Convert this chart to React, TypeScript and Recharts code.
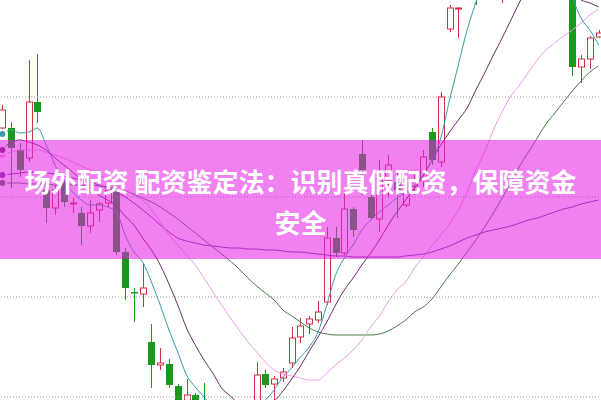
import React from 'react';
import { ComposedChart, Bar, Line, XAxis, YAxis, ReferenceLine } from 'recharts';

const opens = [12.69, 12.69, 12.47, 12.39, 12.95, 12.07, 11.89, 12.14, 11.93, 11.84, 11.71, 11.87, 11.94, 12.05, 11.45, 11.05, 11.03, 10.55, 10.32, 10.33, 10.11, 9.87, 10.02, 9.95, 9.77, 9.57, 9.42, 9.52, 9.47, 9.77, 10.23, 10.13, 10.19, 10.34, 10.6, 10.73, 10.77, 10.95, 11.59, 11.44, 11.88, 12.43, 12.0, 11.78, 12.17, 12.15, 11.92, 12.11, 12.17, 12.65, 12.35, 13.68, 13.88, 14.17, 14.57, 14.37, 14.67, 14.17, 14.57, 14.97, 15.17, 15.07, 15.27, 14.97, 14.77, 14.37, 13.3, 13.38, 13.6];
const closes = [12.87, 12.49, 12.27, 12.95, 12.85, 11.89, 12.07, 11.95, 11.94, 11.71, 11.84, 11.93, 12.07, 11.45, 11.09, 11.04, 11.09, 10.32, 10.34, 10.12, 9.87, 10.02, 9.87, 9.77, 9.57, 9.42, 9.52, 9.47, 9.67, 10.22, 10.12, 10.18, 10.25, 10.59, 10.71, 10.78, 10.85, 11.59, 11.44, 11.88, 11.67, 12.27, 11.79, 12.19, 12.32, 12.07, 12.05, 12.17, 12.4, 12.37, 13.0, 13.89, 13.89, 14.37, 14.27, 14.67, 14.87, 14.57, 14.97, 15.17, 15.07, 15.27, 14.97, 14.77, 14.47, 13.3, 13.38, 13.59, 13.64];
const highs = [12.92, 12.75, 12.54, 13.37, 13.43, 12.12, 12.12, 12.17, 11.99, 11.9, 11.97, 11.95, 12.15, 12.12, 11.49, 11.09, 11.34, 10.73, 10.49, 10.38, 10.13, 10.18, 10.04, 10.14, 9.82, 9.67, 9.57, 9.62, 9.72, 10.35, 10.27, 10.21, 10.29, 10.7, 10.79, 10.81, 10.96, 11.7, 11.7, 12.04, 11.9, 12.57, 12.02, 12.37, 12.42, 12.25, 12.1, 12.22, 12.47, 12.69, 13.05, 13.92, 13.9, 14.47, 14.67, 14.77, 14.97, 14.67, 15.07, 15.27, 15.32, 15.37, 15.37, 15.07, 14.87, 14.47, 13.42, 13.61, 13.67];
const lows = [12.66, 12.09, 12.2, 12.35, 12.74, 11.74, 11.82, 11.9, 11.84, 11.52, 11.64, 11.75, 11.9, 11.42, 10.97, 10.75, 10.9, 10.09, 10.27, 10.09, 9.82, 9.82, 9.79, 9.72, 9.52, 9.37, 9.27, 9.37, 9.42, 9.72, 10.09, 9.95, 10.15, 10.29, 10.54, 10.63, 10.74, 10.92, 11.4, 11.42, 11.6, 12.02, 11.77, 11.65, 11.99, 11.79, 11.9, 12.02, 12.1, 12.32, 12.3, 13.65, 13.59, 14.07, 13.92, 14.27, 14.57, 13.94, 14.47, 14.87, 14.97, 14.97, 14.87, 14.67, 14.37, 13.21, 13.14, 13.28, 13.59];

const ma5 = [12.63, 12.67, 12.64, 12.65, 12.69, 12.52, 12.32, 12.17, 12.05, 11.97, 11.92, 11.92, 11.9, 11.85, 11.62, 11.45, 11.35, 11.15, 10.92, 10.67, 10.45, 10.22, 10.1, 10.0, 9.9, 9.82, 9.77, 9.75, 9.79, 9.87, 9.97, 10.07, 10.2, 10.29, 10.4, 10.5, 10.65, 10.92, 11.22, 11.39, 11.52, 11.67, 11.77, 11.85, 11.92, 11.99, 12.05, 12.12, 12.22, 12.37, 12.59, 12.97, 13.32, 13.67, 13.95, 14.27, 14.57, 14.77, 14.97, 15.07, 15.12, 15.12, 15.07, 14.87, 14.47, 14.02, 13.79, 13.67, 13.52];
const ma10 = [12.47, 12.55, 12.57, 12.55, 12.52, 12.47, 12.39, 12.32, 12.25, 12.17, 12.09, 12.02, 11.97, 11.91, 11.81, 11.72, 11.59, 11.47, 11.32, 11.13, 10.92, 10.69, 10.52, 10.37, 10.24, 10.09, 10.01, 9.93, 9.88, 9.89, 9.93, 9.96, 10.06, 10.18, 10.31, 10.46, 10.6, 10.75, 10.92, 11.07, 11.19, 11.32, 11.44, 11.57, 11.72, 11.85, 11.97, 12.09, 12.21, 12.37, 12.52, 12.65, 12.77, 12.89, 13.07, 13.24, 13.42, 13.59, 13.77, 13.95, 14.12, 14.22, 14.27, 14.25, 14.12, 14.05, 13.97, 13.94, 13.9];
const ma20 = [12.42, 12.45, 12.47, 12.47, 12.47, 12.45, 12.42, 12.39, 12.35, 12.31, 12.27, 12.22, 12.17, 12.12, 12.07, 12.02, 11.97, 11.87, 11.75, 11.62, 11.52, 11.42, 11.32, 11.19, 11.05, 10.92, 10.79, 10.67, 10.55, 10.45, 10.35, 10.27, 10.23, 10.21, 10.19, 10.17, 10.17, 10.24, 10.32, 10.39, 10.47, 10.57, 10.7, 10.81, 10.95, 11.07, 11.15, 11.29, 11.4, 11.51, 11.62, 11.73, 11.87, 12.05, 12.27, 12.45, 12.67, 12.85, 13.01, 13.12, 13.25, 13.37, 13.47, 13.54, 13.61, 13.67, 13.74, 13.82, 13.88];
const ma30 = [12.14, 12.14, 12.14, 12.13, 12.13, 12.13, 12.12, 12.12, 12.12, 12.12, 12.12, 12.11, 12.1, 12.08, 12.06, 12.03, 11.99, 11.95, 11.9, 11.84, 11.78, 11.71, 11.64, 11.57, 11.5, 11.43, 11.36, 11.28, 11.19, 11.11, 11.04, 10.97, 10.87, 10.81, 10.75, 10.69, 10.65, 10.63, 10.62, 10.62, 10.62, 10.62, 10.62, 10.63, 10.66, 10.71, 10.77, 10.85, 10.9, 10.98, 11.1, 11.22, 11.33, 11.45, 11.57, 11.7, 11.84, 11.99, 12.15, 12.31, 12.45, 12.59, 12.73, 12.84, 12.95, 13.06, 13.16, 13.25, 13.31];
const ma60 = [12.22, 12.23, 12.24, 12.25, 12.25, 12.24, 12.23, 12.21, 12.19, 12.17, 12.15, 12.12, 12.09, 12.05, 12.0, 11.94, 11.87, 11.8, 11.72, 11.65, 11.59, 11.56, 11.54, 11.52, 11.51, 11.5, 11.49, 11.49, 11.48, 11.48, 11.47, 11.47, 11.46, 11.45, 11.45, 11.44, 11.43, 11.42, 11.41, 11.41, 11.4, 11.4, 11.4, 11.4, 11.4, 11.4, 11.41, 11.42, 11.43, 11.45, 11.48, 11.51, 11.55, 11.59, 11.62, 11.65, 11.67, 11.69, 11.71, 11.74, 11.77, 11.79, 11.82, 11.85, 11.88, 11.9, 11.93, 11.95, 11.97];

const gridValues = [13, 12, 11, 10];
const titleLines = ['场外配资 配资鉴定法：识别真假配资，保障资金', '安全'];

const UP = '#cc3340';
const DOWN = '#1a9a1a';

const data = opens.map((o, i) => ({
  i,
  open: o,
  close: closes[i],
  high: highs[i],
  low: lows[i],
  range: [lows[i], highs[i]],
  ma5: ma5[i],
  ma10: ma10[i],
  ma20: ma20[i],
  ma30: ma30[i],
  ma60: ma60[i],
}));

const Candle = (props: any) => {
  const { x, y, width, height, payload } = props;
  if (x == null || y == null || !payload) return null;
  const { open, close, high, low } = payload;
  const top = Math.min(y, y + height);
  const h = Math.abs(height);
  const span = high - low;
  const py = (v: number) => (span === 0 ? top : top + ((high - v) / span) * h);
  const cx = Math.round(x + width / 2) + 0.5;
  const yH = py(high);
  const yL = py(low);
  const yO = py(open);
  const yC = py(close);
  const bTop = Math.min(yO, yC);
  const bBot = Math.max(yO, yC);
  const up = close >= open;
  const color = up ? UP : DOWN;
  if (up) {
    const bh = Math.max(bBot - bTop, 1);
    return (
      <g>
        <line x1={cx} x2={cx} y1={yH} y2={bTop} stroke={color} strokeWidth={1} />
        <line x1={cx} x2={cx} y1={bTop + bh} y2={yL} stroke={color} strokeWidth={1} />
        <rect x={cx - 3} y={bTop} width={6} height={bh} fill="#ffffff" stroke={color} strokeWidth={1} />
      </g>
    );
  }
  const bh = Math.max(bBot - bTop, 1.5);
  return (
    <g>
      <line x1={cx} x2={cx} y1={yH} y2={yL} stroke={color} strokeWidth={1} />
      <rect x={cx - 3.5} y={bTop} width={7} height={bh} fill={color} />
    </g>
  );
};

export default function App() {
  return (
    <div style={{ position: 'fixed', left: 0, top: 0, width: 601, height: 400, overflow: 'hidden', background: '#ffffff' }}>
      <div style={{ position: 'absolute', left: -2.4, top: 0 }}>
        <ComposedChart width={605} height={400} data={data} margin={{ top: 0, right: 0, bottom: 0, left: 0 }}>
          <XAxis dataKey="i" type="category" hide />
          <YAxis hide domain={[9.97, 13.97]} allowDataOverflow />
          {gridValues.map((v) => (
            <ReferenceLine key={v} y={v} stroke="#9a9a9a" strokeDasharray="1 2" strokeWidth={1} />
          ))}
          <Bar dataKey="range" shape={<Candle />} isAnimationActive={false} />
          <Line dataKey="ma60" type="monotone" stroke="#6a3a9a" strokeWidth={1} dot={false} isAnimationActive={false} />
          <Line dataKey="ma30" type="monotone" stroke="#4a7a4a" strokeWidth={1} dot={false} isAnimationActive={false} />
          <Line dataKey="ma20" type="monotone" stroke="#e6a0e8" strokeWidth={1} dot={false} isAnimationActive={false} />
          <Line dataKey="ma10" type="monotone" stroke="#6a2c6a" strokeWidth={1} dot={false} isAnimationActive={false} />
          <Line dataKey="ma5" type="monotone" stroke="#3a9cab" strokeWidth={1} dot={false} isAnimationActive={false} />
        </ComposedChart>
      </div>
      <div style={{ position: 'absolute', left: 0, top: 140, width: 601, height: 119, background: 'rgba(230,25,230,0.55)' }} />
      <div
        style={{
          position: 'absolute',
          left: 0,
          top: 160,
          width: 601,
          textAlign: 'center',
          color: '#ffffff',
          fontFamily: "'Noto Sans CJK SC', 'Noto Sans', sans-serif",
          fontWeight: 700,
          fontSize: 26,
          lineHeight: '41px',
          whiteSpace: 'nowrap',
        }}
      >
        {titleLines.map((t) => (
          <div key={t}>{t}</div>
        ))}
      </div>
    </div>
  );
}
